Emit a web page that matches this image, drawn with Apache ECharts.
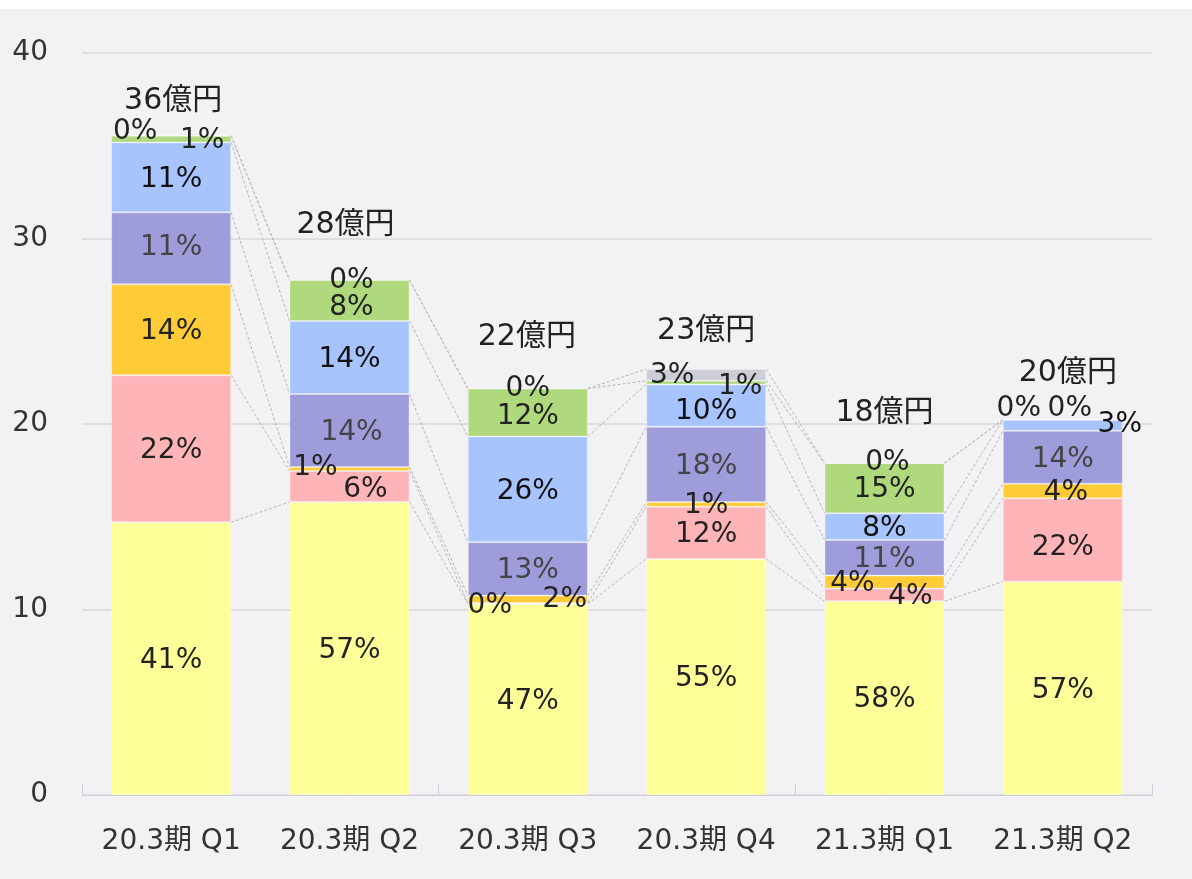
<!DOCTYPE html>
<html>
<head>
<meta charset="utf-8">
<script src="https://cdn.jsdelivr.net/npm/echarts@6/dist/echarts.min.js"></script>
<style>
html, body { margin: 0; padding: 0; background: #fff; }
#main { position: absolute; left: 0; top: 9px; width: 1192px; height: 870px; background: #f2f2f4; }
</style>
</head>
<body>
<div id="main"></div>
<script>
// 四半期
var categories = ['20.3期 Q1', '20.3期 Q2', '20.3期 Q3', '20.3期 Q4', '21.3期 Q1', '21.3期 Q2'];
// 各区分（億円） 下から順
var yellowData = [14.7, 15.8, 10.3, 12.72, 10.45, 11.5];
var pinkData = [7.93, 1.67, 0.05, 2.82, 0.68, 4.5];
var orangeData = [4.9, 0.21, 0.4, 0.25, 0.7, 0.78];
var purpleData = [3.88, 3.94, 2.88, 4.06, 1.92, 2.85];
var blueData = [3.77, 3.93, 5.7, 2.28, 1.44, 0.6];
var greenData = [0.36, 2.21, 2.58, 0.2, 2.7, 0];
var grayData = [0, 0, 0, 0.63, 0, 0];

var stackList = [yellowData, pinkData, orangeData, purpleData, blueData, greenData, grayData];
var colorList = ['#ffff99', '#ffb4b8', '#ffcc38', '#9f9cdc', '#a8c4fe', '#afd97c', '#cdcdd7'];
var labelColor = ['#222', '#222', '#222', '#444', '#111', '#222', '#222'];

// ラベルの位置調整 [dx, dy]（区分ごと、四半期ごと）
var labelShift = {
	0: {},
	1: { 1: [16, 1], 2: [-38, 0], 4: [26, 0], 5: [0, 6] },
	2: { 1: [-34, -3], 2: [37, -2], 3: [0, -1], 4: [-32, 0], 5: [3, 0] },
	3: { 0: [0, -3], 1: [2, 0] },
	4: { 3: [0, 4], 5: [57, -3] },
	5: { 0: [31, 0], 1: [2, 5], 2: [0, 2], 3: [34, 2], 5: [7, -13] },
	6: { 0: [-36, -6], 1: [2, -1], 2: [0, -2], 3: [-34, -1], 4: [3, -2], 5: [-44, -13] }
};
var totalShift = [[2, -35], [-4, -55], [-1, -51], [0, -38], [0, -50], [5, -47]];

var barWidth = 120;
var fontFamily = '"DejaVu Sans", "Noto Sans CJK JP", sans-serif';

var totals = categories.map(function(c, i) {
	var s = 0;
	for (var k = 0; k < stackList.length; k++) s += stackList[k][i];
	return s;
});

function cumAt(k, i) {
	var s = 0;
	for (var j = 0; j <= k; j++) s += stackList[j][i];
	return s;
}

var myChart = echarts.init(document.getElementById('main'));
var option = {
	backgroundColor: '#f2f2f4',
	animation: false,
	grid: { left: 82, right: 40, top: 44, bottom: 84 },
	xAxis: {
		type: 'category',
		data: categories,
		axisLine: { lineStyle: { color: '#cfcfd3' } },
		axisTick: {
			show: true, inside: true, length: 11,
			interval: function(index) { return index % 2 === 0; },
			lineStyle: { color: '#cfcfd3' }
		},
		axisLabel: { interval: 0, color: '#333', fontSize: 28, fontFamily: fontFamily, margin: 33 }
	},
	yAxis: {
		type: 'value',
		min: 0,
		max: 40,
		interval: 10,
		axisLine: { show: false },
		axisTick: { show: false },
		axisLabel: { color: '#333', fontSize: 28, fontFamily: fontFamily, margin: 34 },
		splitLine: { lineStyle: { color: '#d8d8dc', width: 1.5 } }
	},
	series: []
};

for (var k = 0; k < stackList.length; k++) {
	(function(k) {
		option.series.push({
			type: 'bar',
			stack: 'total',
			barWidth: barWidth,
			itemStyle: { color: colorList[k], borderColor: 'rgba(255,255,255,0.3)', borderWidth: 1 },
			label: {
				show: true,
				position: 'inside',
				color: labelColor[k],
				fontSize: 28,
				fontFamily: fontFamily,
				offset: [0, 2],
				formatter: function(p) {
					return Math.round(p.value / totals[p.dataIndex] * 100) + '%';
				}
			},
			data: stackList[k].map(function(v, i) {
				var s = labelShift[k][i];
				return s ? { value: v, label: { offset: [s[0], s[1] + 2] } } : v;
			}),
			z: 2
		});
	})(k);
}

// 合計ラベル
option.series.push({
	type: 'bar',
	stack: 'total',
	barWidth: barWidth,
	itemStyle: { color: 'rgba(0,0,0,0)' },
	label: {
		show: true,
		position: 'inside',
		color: '#222',
		fontSize: 30,
		fontFamily: fontFamily,
		formatter: function(p) {
			return Math.round(totals[p.dataIndex]) + '億円';
		}
	},
	data: categories.map(function(c, i) {
		return { value: 0, label: { offset: totalShift[i] } };
	}),
	z: 3
});

// 区分の境界をつなぐ点線
option.series.push({
	type: 'custom',
	silent: true,
	z: 1,
	encode: { x: 0, y: 1 },
	data: categories.slice(0, -1).map(function(c, i) { return [i, 0]; }),
	renderItem: function(params, api) {
		var i = api.value(0);
		var half = barWidth / 2;
		var children = [];
		for (var k = 0; k < stackList.length; k++) {
			var p1 = api.coord([i, cumAt(k, i)]);
			var p2 = api.coord([i + 1, cumAt(k, i + 1)]);
			children.push({
				type: 'line',
				shape: { x1: p1[0] + half, y1: p1[1], x2: p2[0] - half, y2: p2[1] },
				style: { stroke: '#b8b8bc', lineWidth: 1, lineDash: [3, 2] }
			});
		}
		return { type: 'group', children: children };
	}
});

myChart.setOption(option, true);
</script>
</body>
</html>
